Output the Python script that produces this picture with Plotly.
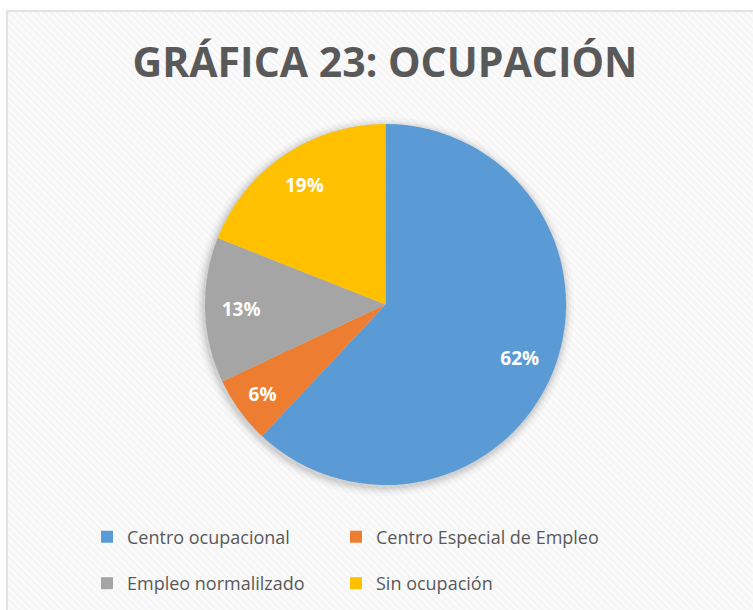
import plotly.graph_objects as go

categories = ["Centro ocupacional", "Centro Especial de Empleo", "Empleo normalilzado", "Sin ocupación"]
values = [62, 6, 13, 19]
colors = ["#5B9BD5", "#ED7D31", "#A5A5A5", "#FFC000"]
title_text = "GRÁFICA 23: OCUPACIÓN"

W, H = 753, 610
ML, MT = 7, 11
PW, PH = W - ML, H - MT

def px_x(x):
    return (x - ML) / PW

def px_y(y):
    return 1 - (y - MT) / PH

cx, cy, r = 385.5, 304.5, 180.5
HOLE = 0.6

fig = go.Figure()

# hatched chart-area background
fig.add_trace(go.Bar(
    x=[0], y=[1], width=[1], showlegend=False, hoverinfo="skip",
    marker=dict(color="rgba(0,0,0,0)", line=dict(width=0),
                pattern=dict(shape="\\", size=5, solidity=0.45,
                             fgcolor="rgba(0,0,0,0.045)", bgcolor="rgba(0,0,0,0)")),
))

# outer ring carries the percentage labels (placed at ~0.8 r like the original)
fig.add_trace(go.Pie(
    labels=categories, values=values, sort=False, direction="clockwise", rotation=0,
    hole=HOLE,
    marker=dict(colors=colors, line=dict(width=0)),
    texttemplate="%{percent:.0%}", textposition="inside", insidetextorientation="horizontal",
    textfont=dict(family="Open Sans", size=19, color="white", weight="bold"),
    domain=dict(x=[px_x(cx - r), px_x(cx + r)], y=[px_y(cy + r), px_y(cy - r)]),
    showlegend=False, hoverinfo="label+percent",
))
# inner part of the same slices
ri = r * HOLE + 2
fig.add_trace(go.Pie(
    labels=categories, values=values, sort=False, direction="clockwise", rotation=0,
    marker=dict(colors=colors, line=dict(width=0)),
    textinfo="none",
    domain=dict(x=[px_x(cx - ri), px_x(cx + ri)], y=[px_y(cy + ri), px_y(cy - ri)]),
    showlegend=False, hoverinfo="label+percent",
))

# one legend per entry, laid out in two columns x two rows
legend_names = ["legend", "legend2", "legend3", "legend4"]
for c, col, lg in zip(categories, colors, legend_names):
    fig.add_trace(go.Scatter(
        x=[None], y=[None], mode="markers", name=c,
        marker=dict(symbol="square", size=12, color=col),
        legend=lg,
    ))

shapes = []
# soft shadow around the pie
for k, a in [(9, 0.025), (6, 0.035), (4, 0.045), (2, 0.06)]:
    shapes.append(dict(type="circle", layer="below", xref="paper", yref="paper",
                       xsizemode="pixel", ysizemode="pixel",
                       xanchor=px_x(cx - 1), yanchor=px_y(cy + 2),
                       x0=-(r + k), x1=r + k, y0=-(r + k), y1=r + k,
                       fillcolor=f"rgba(0,0,0,{a})", line=dict(width=0)))
# chart border
shapes.append(dict(type="rect", xref="paper", yref="paper", x0=0, x1=1.02, y0=-0.02, y1=1,
                   line=dict(color="#D9D9D9", width=1.5), fillcolor="rgba(0,0,0,0)", layer="above"))

legend_common = dict(orientation="h",
                     font=dict(family="Open Sans", size=18, color="#595959"),
                     bgcolor="rgba(0,0,0,0)", xanchor="left", yanchor="middle",
                     itemclick=False, itemdoubleclick=False)
col_x = [87, 336]
row_y = [537, 583.5]

fig.update_layout(
    width=W, height=H,
    margin=dict(l=ML, r=0, t=MT, b=0, pad=0),
    paper_bgcolor="white", plot_bgcolor="#FBFBFB",
    title=dict(text=title_text, x=385 / W, xref="container", xanchor="center",
               y=1 - 63 / H, yref="container", yanchor="middle",
               font=dict(family="Open Sans", size=41, color="#595959", weight="bold")),
    xaxis=dict(range=[-0.5, 0.5], visible=False, fixedrange=True),
    yaxis=dict(range=[0, 1], visible=False, fixedrange=True),
    bargap=0,
    shapes=shapes,
    legend=dict(x=px_x(col_x[0]), y=px_y(row_y[0]), **legend_common),
    legend2=dict(x=px_x(col_x[1]), y=px_y(row_y[0]), **legend_common),
    legend3=dict(x=px_x(col_x[0]), y=px_y(row_y[1]), **legend_common),
    legend4=dict(x=px_x(col_x[1]), y=px_y(row_y[1]), **legend_common),
    showlegend=True,
)

fig.write_html("out.html", config={"displayModeBar": False},
               post_script="document.body.style.margin='0';")
